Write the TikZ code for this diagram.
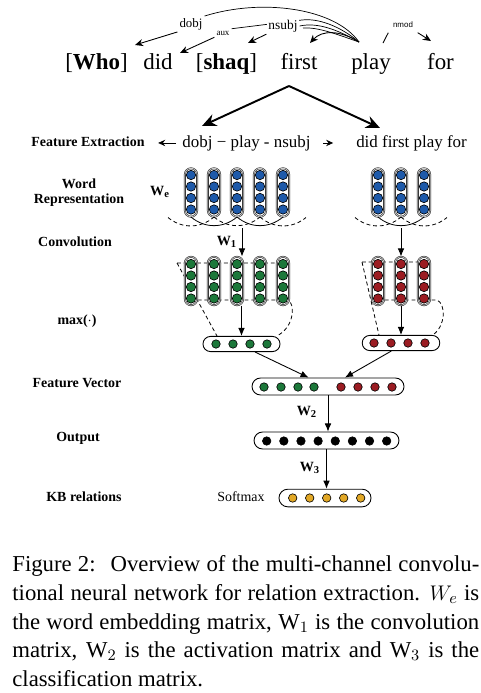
\documentclass[tikz,border=0pt]{standalone}
\usepackage{fontspec}
\setmainfont{Liberation Serif}
\newfontfamily\labelsans{Liberation Sans}
\usetikzlibrary{arrows.meta,shapes.misc,backgrounds,positioning}

\definecolor{embblue}{RGB}{30,90,170}
\definecolor{convgreen}{RGB}{28,120,58}
\definecolor{convred}{RGB}{155,28,34}
\definecolor{softgold}{RGB}{226,168,38}

\tikzset{
    unit/.style={circle,draw=black,line width=0.35pt,inner sep=0pt,minimum size=5.3pt},
    cell/.style={unit,minimum size=4.8pt},
    column/.style={draw=black!85,double=gray!40,double distance=0.45pt,line width=0.3pt,fill=white,rounded corners=3.6pt,minimum width=7pt,minimum height=27.5pt,inner sep=0pt},
    vector/.style={rounded rectangle,draw=black,line width=0.5pt,fill=white,inner sep=0pt,minimum height=8.6pt},
    stage/.style={font=\fontsize{7.9}{8.6}\selectfont\bfseries,align=center},
    weight/.style={font=\fontsize{8}{9}\selectfont\bfseries},
    rel/.style={fill=white,inner sep=1pt},
    deparrow/.style={line width=0.5pt,-{Stealth[length=4.6pt,width=4pt]}},
    feed/.style={line width=0.5pt,-{Latex[length=4.6pt,width=3.8pt]}},
    split/.style={line width=1.1pt,-{Stealth[length=8pt,width=7pt]}},
    window/.style={line width=0.45pt,dash pattern=on 2.2pt off 1.6pt},
}

\begin{document}
\begin{tikzpicture}[x=0.5671pt,y=-0.5671pt]
            \useasboundingbox (0,0) rectangle (481,693);

            \begin{scope}[font=\fontsize{13}{15}\selectfont,inner sep=0pt]
                \node[anchor=base] (who)   at (96.5,69)  {[\textbf{Who}]};
                \node[anchor=base] (did)   at (158,69)   {did};
                \node[anchor=base] (shaq)  at (226.5,69) {[\textbf{shaq}]};
                \node[anchor=base] (first) at (299,69)   {first};
                \node[anchor=base] (play)  at (371,69)   {play};
                \node[anchor=base] (for)   at (440.5,69) {for};
            \end{scope}

            \node[rel,font=\fontsize{7.3}{8}\selectfont] (dobj) at (191,24) {dobj};
            \node[rel,font=\fontsize{5.1}{6}\selectfont] (aux) at (223,33) {aux};
            \node[rel,font=\fontsize{7.6}{8}\selectfont] (nsubj) at (283,26) {nsubj};
            \node[rel,font=\labelsans\fontsize{4.5}{5}\selectfont,inner sep=2.5pt] (nmod) at (403,25) {nmod};

            \coordinate (hub)      at (359,42);
            \coordinate (hub2)     at (383,43);
            \coordinate (to-who)   at (135,45);
            \coordinate (to-did)   at (180,53);
            \coordinate (to-shaq)  at (248,43);
            \coordinate (to-first) at (310,43);
            \coordinate (to-for)   at (431,41);

            \begin{scope}[on background layer,line width=0.5pt]
                \draw (hub) .. controls (335,8) and (262,-2) .. (dobj.north east);
                \draw (hub) .. controls (340,26) and (318,18) .. (302,20) -- (aux.north east);
                \draw (hub) .. controls (338,30) and (318,22) .. (nsubj.east);
                \draw (hub) .. controls (336,34) and (318,27) .. (303,28);
            \end{scope}

            \draw[deparrow] (dobj.south west) -- (to-who);
            \draw[deparrow] (aux.south west) -- (to-did);
            \draw[deparrow] (nsubj.south west) -- (to-shaq);
            \draw[deparrow] (hub) .. controls (340,30) and (322,30) .. (to-first);
            \draw[line width=0.5pt] (hub2) -- (nmod.south west);
            \draw[deparrow] (nmod.south east) -- (to-for);

            \coordinate (apex)    at (289,86);
            \coordinate (to-path) at (202,126);
            \coordinate (to-win)  at (380,128);
            \draw[split] (apex) -- (to-path);
            \draw[split] (apex) -- (to-win);

            \node[font=\fontsize{9.6}{11}\selectfont,inner sep=0pt,anchor=base] (fepath) at (246.5,147) {dobj − play - nsubj};
            \node[font=\fontsize{9.6}{11}\selectfont,inner sep=0pt,anchor=base] (fewin) at (411.5,147) {did first play for};
            \draw[line width=0.5pt,-{Stealth[length=4pt,width=3.6pt]}] ([xshift=-3.4pt]fepath.west) -- ++(-18,0);
            \draw[line width=0.5pt,-{Stealth[length=4pt,width=3.6pt]}] ([xshift=7pt]fepath.east) -- ++(10,0);

            \node[stage] (l-fe)  at (88,142) {Feature Extraction};
            \node[stage] (l-wr)  at (79,193) {Word\\Representation};
            \node[stage] (l-cv)  at (75,242) {Convolution};
            \node[stage] (l-mx)  at (77,321) {max($\cdot$)};
            \node[stage] (l-fv)  at (77,383) {Feature Vector};
            \node[stage] (l-out) at (78,438) {Output};
            \node[stage] (l-kb)  at (84,497) {KB relations};

            \node[weight] (we) at (160,192) {W\textsubscript{e}};
            \node[weight] (w1) at (227,242) {W\textsubscript{1}};
            \node[weight] (w2) at (307,412) {W\textsubscript{2}};
            \node[weight] (w3) at (310,468) {W\textsubscript{3}};

            \foreach \x [count=\i] in {191,214,237,260,283} {
                \node[column] (wl\i) at (\x,192.5) {};
                \foreach \y [count=\j] in {175,186.5,198,209.5}
                    \node[unit,fill=embblue] (wl\i-\j) at (\x,\y) {};
                \node[column] (cl\i) at (\x,281) {};
                \foreach \y [count=\j] in {264,275.5,287,298.5}
                    \node[unit,fill=convgreen] (cl\i-\j) at (\x,\y) {};
            }
            \foreach \x [count=\i] in {378,401,424} {
                \node[column] (wr\i) at (\x,192.5) {};
                \foreach \y [count=\j] in {175,186.5,198,209.5}
                    \node[unit,fill=embblue] (wr\i-\j) at (\x,\y) {};
                \node[column] (cr\i) at (\x,281) {};
                \foreach \y [count=\j] in {264,275.5,287,298.5}
                    \node[unit,fill=convred] (cr\i-\j) at (\x,\y) {};
            }

            \coordinate (wlpadl) at (168,217.5);
            \coordinate (wlpadr) at (306,217.5);
            \coordinate (wrpadl) at (355,217.5);
            \coordinate (wrpadr) at (447,217.5);
            \draw[line width=0.45pt] (wl1.south) to[bend right=40] (wl3.south) to[bend right=40] (wl5.south);
            \draw[window] (wlpadl) to[bend right=40] (wl2.south) (wl2.south) to[bend right=40] (wl4.south) (wl4.south) to[bend right=40] (wlpadr);
            \draw[line width=0.45pt] (wr1.south) to[bend right=40] (wr3.south);
            \draw[window] (wrpadl) to[bend right=40] (wr2.south) (wr2.south) to[bend right=40] (wrpadr);

            \node[vector,minimum width=43.7pt] (pooll) at (241.5,344) {};
            \foreach \x [count=\i] in {216,233,250,267}
                \node[cell,fill=convgreen] (pooll-\i) at (\x,344) {};
            \node[vector,minimum width=44pt] (poolr) at (401,343) {};
            \foreach \x [count=\i] in {374,391,408,425}
                \node[cell,fill=convred] (poolr-\i) at (\x,343) {};

            \begin{scope}[on background layer]
                \draw[window] (177,263) -- (283,263) (191,300) -- (288,300) .. controls (295,303) and (295,327) .. ([xshift=20pt]pooll.north);
                \draw[window] (177,263) -- ([xshift=-13.9pt]pooll.north);
                \draw[window] (362,262) -- (424,262) (378,300) -- (437,300) .. controls (446,304) and (446,326) .. ([xshift=18pt]poolr.north);
                \draw[window] (362,262) -- ([xshift=-12.5pt]poolr.north);
            \end{scope}

            \node[vector,minimum width=86.2pt,minimum height=9.6pt] (fv) at (328,386.5) {};
            \foreach \x [count=\i] in {264,281,298,314}
                \node[cell,fill=convgreen] (fv-g\i) at (\x,387) {};
            \foreach \x [count=\i] in {341,358,375,392}
                \node[cell,fill=convred] (fv-r\i) at (\x,387) {};

            \node[vector,minimum width=82.2pt,minimum height=9.6pt] (out) at (326.5,440.5) {};
            \foreach \i in {0,...,7}
                \node[cell,fill=black] (out-\i) at ({266.7+17.14*\i},441) {};

            \node[vector,minimum width=52.2pt,minimum height=10pt] (soft) at (325,498) {};
            \foreach \i in {0,...,4}
                \node[cell,fill=softgold] (soft-\i) at ({292.7+17*\i},498) {};
            \node[font=\fontsize{7.9}{9}\selectfont] (softlabel) at (241,497) {Softmax};

            \coordinate (wlsplit) at (242,228);
            \coordinate (wrsplit) at (401,228);
            \draw[feed] (wlsplit) -- (wlsplit |- cl3.north);
            \draw[feed] (wrsplit) -- (cr2.north);
            \draw[feed] (cl3.south -| pooll.north) -- (pooll.north);
            \draw[feed] (cr2.south) -- (poolr.north);
            \draw[feed] ([xshift=7.7pt]pooll.south) -- ([xshift=-11pt]fv.north);
            \draw[feed] ([xshift=-5.5pt]poolr.south) -- ([xshift=9.6pt]fv.north);
            \draw[feed] (fv.south) -- (fv.south |- out.north);
            \draw[feed] (out.south) -- (out.south |- soft.north);

            \node[anchor=north west,inner sep=0pt,text width=264.8pt,align=justify,font=\fontsize{12.9}{16.2}\selectfont] (caption) at (12,555.5)
                {Figure 2:~ Overview of the multi-channel convolu-\linebreak
                tional neural network for relation extraction. $W_e$ is\linebreak
                the word embedding matrix, W$_1$ is the convolution\linebreak
                matrix, W$_2$ is the activation matrix and W$_3$ is the\linebreak
                classification matrix.};
\end{tikzpicture}
\end{document}
